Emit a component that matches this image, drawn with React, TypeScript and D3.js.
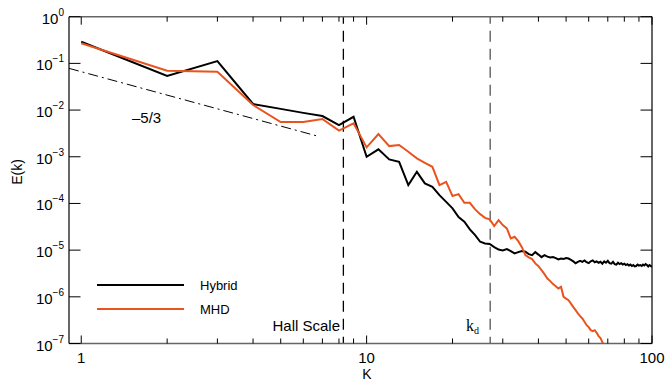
import React from 'react';
import * as d3 from 'd3';

// Wavenumber spectra E(k), sampled at integer k = 1, 2, 3, ...
const hybridE = [
  2.91e-1, 5.36e-2, 1.12e-1, 1.35e-2, 1.06e-2, 8.71e-3, 7.45e-3, 4.78e-3, 7.19e-3, 1.0e-3,
  1.44e-3, 8.79e-4, 7.8e-4, 2.47e-4, 4.76e-4, 2.69e-4, 2.28e-4, 1.51e-4, 1.08e-4, 7.83e-5,
  5.09e-5, 4.08e-5, 2.78e-5, 2.09e-5, 1.51e-5, 1.39e-5, 1.35e-5, 1.16e-5, 1.03e-5, 9.86e-6,
  1.05e-5, 9.53e-6, 8.49e-6, 9.06e-6, 9.53e-6, 9.29e-6, 8.2e-6, 7.82e-6, 9.06e-6, 8.02e-6,
  7.08e-6, 7.82e-6, 7.26e-6, 6.97e-6, 7.08e-6, 6.76e-6, 6.31e-6, 6.61e-6, 6.46e-6, 6.76e-6,
  6.61e-6, 6.17e-6, 5.75e-6, 5.25e-6, 5.62e-6, 5.89e-6, 5.62e-6, 6.03e-6, 5.5e-6, 5.25e-6,
  5.75e-6, 6.03e-6, 5.5e-6, 5.75e-6, 5.37e-6, 5.62e-6, 5.13e-6, 5.75e-6, 5.37e-6, 5.89e-6,
  5.25e-6, 5.13e-6, 5.62e-6, 5.01e-6, 4.9e-6, 5.37e-6, 5.01e-6, 5.25e-6, 4.9e-6, 5.13e-6,
  4.79e-6, 5.01e-6, 4.68e-6, 4.9e-6, 4.57e-6, 4.79e-6, 4.47e-6, 4.57e-6, 4.9e-6, 4.68e-6,
  4.79e-6, 4.57e-6, 4.9e-6, 4.68e-6, 5.01e-6, 4.79e-6, 4.47e-6, 4.79e-6, 4.57e-6, 4.37e-6,
];

const mhdE = [
  2.69e-1, 6.97e-2, 6.62e-2, 1.28e-2, 5.53e-3, 5.53e-3, 6.43e-3, 3.64e-3, 5.19e-3, 1.59e-3,
  3.06e-3, 1.69e-3, 1.78e-3, 1.28e-3, 9.23e-4, 7.43e-4, 6.1e-4, 2.47e-4, 2.91e-4, 1.44e-4,
  1.58e-4, 1.03e-4, 1.03e-4, 7.45e-5, 5.9e-5, 4.92e-5, 4.55e-5, 3.27e-5, 4.4e-5, 3.44e-5,
  2.92e-5, 1.78e-5, 1.93e-5, 1.56e-5, 1.16e-5, 7.82e-6, 6.98e-6, 6.41e-6, 5.19e-6, 4.54e-6,
  3.72e-6, 3.06e-6, 2.47e-6, 2.17e-6, 1.87e-6, 1.69e-6, 1.51e-6, 1.63e-6, 9.98e-7, 9.12e-7,
  8.47e-7, 7.13e-7, 6.0e-7, 5.18e-7, 4.4e-7, 3.85e-7, 3.44e-7, 2.93e-7, 2.47e-7, 2.24e-7,
  1.93e-7, 1.84e-7, 1.93e-7, 1.69e-7, 1.44e-7, 1.3e-7, 1.07e-7, 8.71e-8, 7.59e-8, 6.46e-8,
];

const seriesNames = ['Hybrid', 'MHD'];
const seriesColors = ['#000000', '#E9541E'];
const xTickValues = [1, 10, 100];
const xTickLabels = ['1', '10', '100'];
const yTickExponents = [0, -1, -2, -3, -4, -5, -6, -7];
const hallScaleK = 8.29;
const dissipationK = 27.1;
const slopeAmp = 0.0664;
const slopeExp = -5 / 3;
const slopeRange = [0.906, 6.78];

const W = 668;
const H = 381;
const L = 69;
const R = 652;
const T = 16.7;
const B = 343.5;

export default function App() {
  const x = d3.scaleLog().domain([0.906, 100]).range([L, R]);
  const y = d3.scaleLog().domain([1, 1e-7]).range([T, B]);
  const line = d3
    .line<number>()
    .x((_, i) => x(i + 1))
    .y((d) => y(d));

  const minor: number[] = [];
  [1, 10].forEach((dec) => {
    for (let m = 2; m <= 9; m++) minor.push(dec * m);
  });

  const slopeLine = d3
    .line<number>()
    .x((k) => x(k))
    .y((k) => y(slopeAmp * Math.pow(k, slopeExp)));

  const font = 'Liberation Sans, Arial, Helvetica, sans-serif';

  return (
    <svg
      width={W}
      height={H}
      style={{ position: 'absolute', left: 0, top: 0, background: '#fff' }}
      fontFamily={font}
    >
      <defs>
        <clipPath id="plot">
          <rect x={L} y={T} width={R - L} height={B - T} />
        </clipPath>
      </defs>

      {/* vertical dashed markers */}
      {[hallScaleK, dissipationK].map((k, i) => (
        <line
          key={i}
          x1={x(k)}
          x2={x(k)}
          y1={T}
          y2={B}
          stroke={i === 0 ? '#000' : '#555'}
          strokeWidth={1.3}
          strokeDasharray="11,7"
          strokeDashoffset={4}
        />
      ))}

      {/* -5/3 reference */}
      <path
        d={slopeLine(slopeRange) || ''}
        fill="none"
        stroke="#000"
        strokeWidth={1}
        strokeDasharray="10,4,2,4"
      />
      <text x={132} y={123} fontSize={15}>
        –5/3
      </text>

      <g clipPath="url(#plot)">
        <path d={line(hybridE) || ''} fill="none" stroke={seriesColors[0]} strokeWidth={2} strokeLinejoin="miter" />
        <path d={line(mhdE) || ''} fill="none" stroke={seriesColors[1]} strokeWidth={2} strokeLinejoin="miter" />
      </g>

      {/* axes frame */}
      <line x1={L} x2={R} y1={T} y2={T} stroke="#666" strokeWidth={1.6} />
      <line x1={L} x2={R} y1={B} y2={B} stroke="#666" strokeWidth={1.6} />
      <line x1={L} x2={L} y1={T} y2={B} stroke="#000" strokeWidth={1.2} />
      <line x1={R} x2={R} y1={T} y2={B} stroke="#000" strokeWidth={1.2} />

      {/* x ticks */}
      {xTickValues.map((v) => (
        <g key={'xm' + v}>
          <line x1={x(v)} x2={x(v)} y1={B} y2={B - 8} stroke="#000" />
          <line x1={x(v)} x2={x(v)} y1={T} y2={T + 8} stroke="#000" />
        </g>
      ))}
      {minor.map((v) => (
        <g key={'xn' + v}>
          <line x1={x(v)} x2={x(v)} y1={B} y2={B - 5} stroke="#000" />
          <line x1={x(v)} x2={x(v)} y1={T} y2={T + 5} stroke="#000" />
        </g>
      ))}
      {xTickValues.map((v, i) => (
        <text key={'xl' + v} x={x(v)} y={363} fontSize={15} textAnchor="middle">
          {xTickLabels[i]}
        </text>
      ))}
      <text x={367} y={379} fontSize={14} textAnchor="middle">
        K
      </text>

      {/* y ticks */}
      {yTickExponents.map((e) => {
        const yy = y(Math.pow(10, e));
        return (
          <g key={'y' + e}>
            <line x1={L} x2={L + 11.5} y1={yy} y2={yy} stroke="#000" />
            <line x1={R} x2={R - 11.5} y1={yy} y2={yy} stroke="#000" />
            <text x={64} y={yy + 7} fontSize={15} textAnchor="end">
              10
              <tspan fontSize={10} dy={-8}>
                {e === 0 ? '0' : '−' + Math.abs(e)}
              </tspan>
            </text>
          </g>
        );
      })}
      <text
        transform={`translate(22,172) rotate(-90)`}
        fontSize={14}
        textAnchor="middle"
      >
        E(k)
      </text>

      {/* legend */}
      {seriesNames.map((n, i) => (
        <g key={n}>
          <line x1={97} x2={184} y1={285 + i * 24} y2={285 + i * 24} stroke={seriesColors[i]} strokeWidth={2} />
          <text x={200} y={289.5 + i * 24} fontSize={13}>
            {n}
          </text>
        </g>
      ))}

      {/* marker labels */}
      <text x={340} y={331} fontSize={15} textAnchor="end">
        Hall Scale
      </text>
      <text x={466} y={331} fontSize={16} fontFamily="Liberation Serif, Times New Roman, serif">
        k<tspan fontSize={10} dy={3}>d</tspan>
      </text>
    </svg>
  );
}
